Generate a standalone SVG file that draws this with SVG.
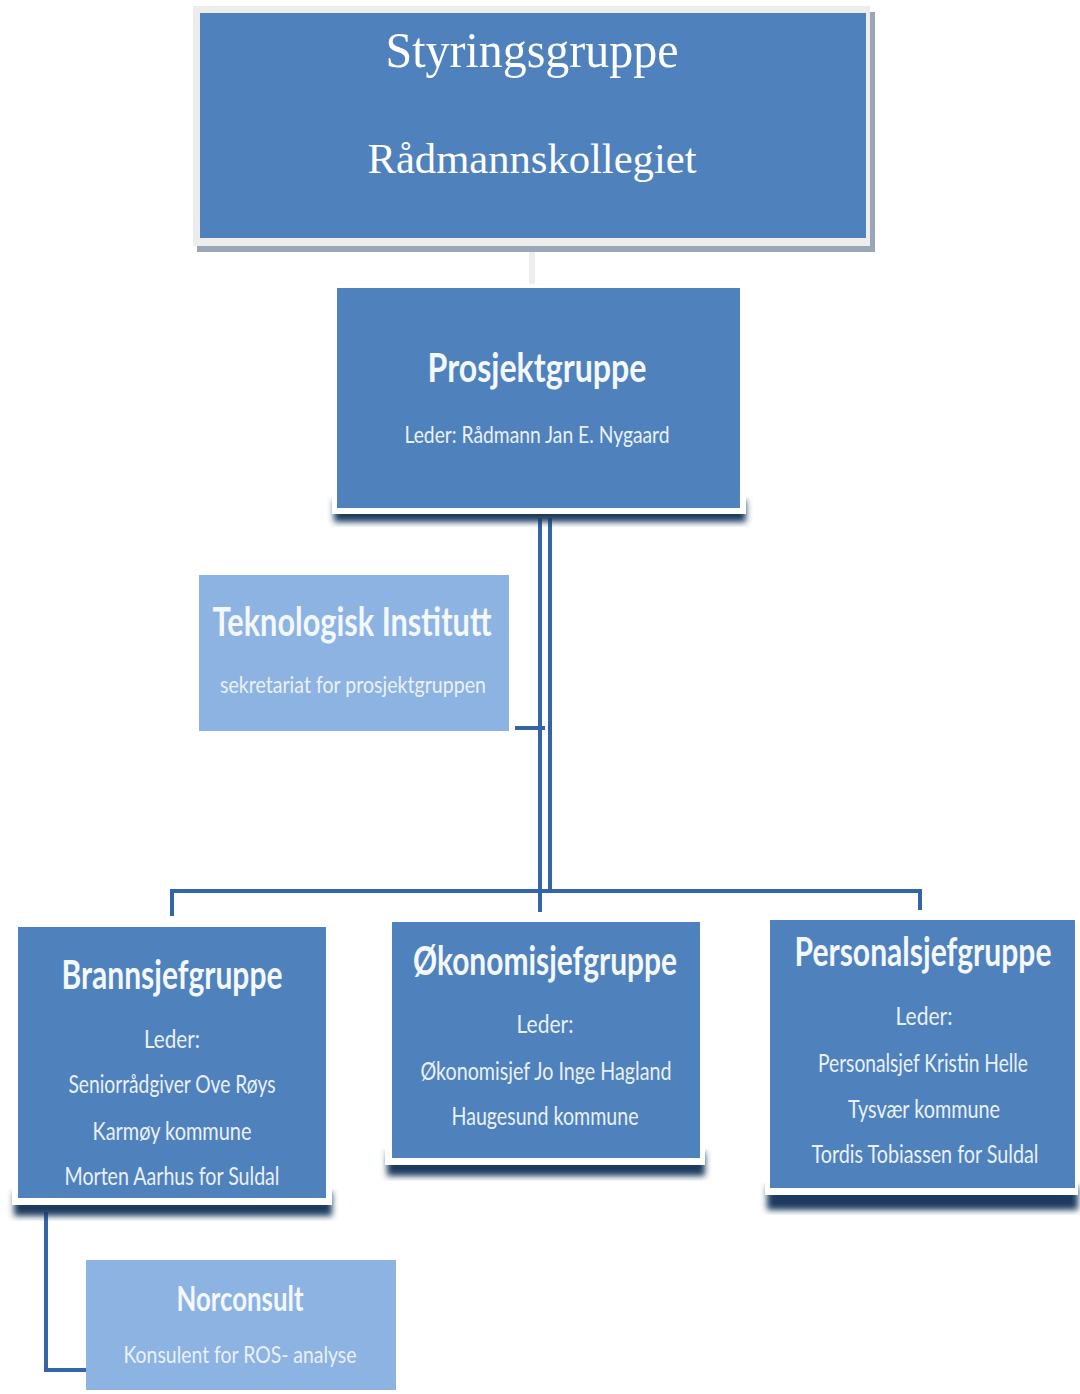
<svg xmlns="http://www.w3.org/2000/svg" width="1080" height="1394" viewBox="0 0 1080 1394">
<defs>
<filter id="sh" x="-10%" y="-10%" width="120%" height="130%"><feGaussianBlur stdDeviation="3"/></filter>
<style>
.blue{fill:#4F81BD}
.light{fill:#8DB3E2}
.frame{fill:#FFFFFF}
.shadow{fill:#1F3A5E;filter:url(#sh)}
.ser{font-family:"Liberation Serif","Times New Roman",serif;fill:#FFFFFF;text-anchor:middle}
.t{font-family:Lato,"Open Sans","Liberation Sans",sans-serif;font-weight:bold;fill:#F4F8FF;text-anchor:middle}
.s{font-family:Lato,"Open Sans","Liberation Sans",sans-serif;fill:#EAF1FB;text-anchor:middle}
.con{fill:none;stroke:#3465A4;stroke-width:4}
</style>
</defs>
<rect width="1080" height="1394" fill="#FFFFFF"/>
<g id="connectors">
<line x1="532" y1="248" x2="532" y2="285" stroke="#EDEDED" stroke-width="6"/>
<line class="con" x1="540" y1="518" x2="540" y2="912"/>
<line class="con" x1="550" y1="518" x2="550" y2="893"/>
<line class="con" x1="515" y1="728" x2="545" y2="728"/>
<polyline class="con" points="172,916 172,891 920,891 920,910"/>
<polyline class="con" points="46,1212 46,1370 86,1370"/>
</g>
<g id="styringsgruppe">
<rect x="197" y="12" width="678" height="240" fill="#9AA5B5"/>
<rect x="193" y="6" width="677" height="240" fill="#EDEDED"/>
<rect x="200" y="13" width="666" height="225" class="blue"/>
<text class="ser" x="532" y="67" font-size="50" textLength="293" lengthAdjust="spacingAndGlyphs">Styringsgruppe</text>
<text class="ser" x="532" y="173" font-size="43" textLength="329" lengthAdjust="spacingAndGlyphs">Rådmannskollegiet</text>
</g>
<g id="prosjektgruppe">
<rect x="334" y="500" width="412" height="22" class="shadow"/>
<rect x="332" y="284" width="414" height="230" class="frame"/>
<rect x="337" y="288" width="403" height="220" class="blue"/>
<text class="t" x="537" y="382" font-size="40" textLength="219" lengthAdjust="spacingAndGlyphs">Prosjektgruppe</text>
<text class="s" x="537" y="443" font-size="24" textLength="265" lengthAdjust="spacingAndGlyphs">Leder: Rådmann Jan E. Nygaard</text>
</g>
<g id="teknologisk">
<rect x="199" y="575" width="310" height="156" class="light"/>
<text class="t" x="352" y="636" font-size="40" textLength="279" lengthAdjust="spacingAndGlyphs">Teknologisk Institutt</text>
<text class="s" x="353" y="693" font-size="24" textLength="266" lengthAdjust="spacingAndGlyphs">sekretariat for prosjektgruppen</text>
</g>
<g id="brannsjefgruppe">
<rect x="14" y="1192" width="318" height="24" class="shadow"/>
<rect x="12" y="922" width="320" height="283" class="frame"/>
<rect x="18" y="927" width="308" height="271" class="blue"/>
<text class="t" x="172" y="989" font-size="40" textLength="221" lengthAdjust="spacingAndGlyphs">Brannsjefgruppe</text>
<text class="s" x="172" y="1048" font-size="25" textLength="56" lengthAdjust="spacingAndGlyphs">Leder:</text>
<text class="s" x="172" y="1093" font-size="25" textLength="207" lengthAdjust="spacingAndGlyphs">Seniorrådgiver Ove Røys</text>
<text class="s" x="172" y="1140" font-size="25" textLength="159" lengthAdjust="spacingAndGlyphs">Karmøy kommune</text>
<text class="s" x="172" y="1185" font-size="25" textLength="215" lengthAdjust="spacingAndGlyphs">Morten Aarhus for Suldal</text>
</g>
<g id="okonomisjefgruppe">
<rect x="387" y="1152" width="318" height="24" class="shadow"/>
<rect x="385" y="917" width="320" height="248" class="frame"/>
<rect x="392" y="922" width="308" height="236" class="blue"/>
<text class="t" x="545" y="975" font-size="40" textLength="264" lengthAdjust="spacingAndGlyphs">Økonomisjefgruppe</text>
<text class="s" x="545" y="1033" font-size="25" textLength="57" lengthAdjust="spacingAndGlyphs">Leder:</text>
<text class="s" x="546" y="1080" font-size="25" textLength="251" lengthAdjust="spacingAndGlyphs">Økonomisjef Jo Inge Hagland</text>
<text class="s" x="545" y="1125" font-size="25" textLength="187" lengthAdjust="spacingAndGlyphs">Haugesund kommune</text>
</g>
<g id="personalsjefgruppe">
<rect x="767" y="1186" width="311" height="24" class="shadow"/>
<rect x="765" y="915" width="313" height="280" class="frame"/>
<rect x="770" y="920" width="305" height="268" class="blue"/>
<text class="t" x="923" y="966" font-size="40" textLength="257" lengthAdjust="spacingAndGlyphs">Personalsjefgruppe</text>
<text class="s" x="924" y="1025" font-size="25" textLength="57" lengthAdjust="spacingAndGlyphs">Leder:</text>
<text class="s" x="923" y="1072" font-size="25" textLength="210" lengthAdjust="spacingAndGlyphs">Personalsjef Kristin Helle</text>
<text class="s" x="924" y="1118" font-size="25" textLength="152" lengthAdjust="spacingAndGlyphs">Tysvær kommune</text>
<text class="s" x="925" y="1163" font-size="25" textLength="227" lengthAdjust="spacingAndGlyphs">Tordis Tobiassen for Suldal</text>
</g>
<g id="norconsult">
<rect x="86" y="1260" width="310" height="130" class="light"/>
<text class="t" x="240" y="1311" font-size="34" textLength="127" lengthAdjust="spacingAndGlyphs">Norconsult</text>
<text class="s" x="240" y="1363" font-size="24" textLength="233" lengthAdjust="spacingAndGlyphs">Konsulent for ROS- analyse</text>
</g>
</svg>
